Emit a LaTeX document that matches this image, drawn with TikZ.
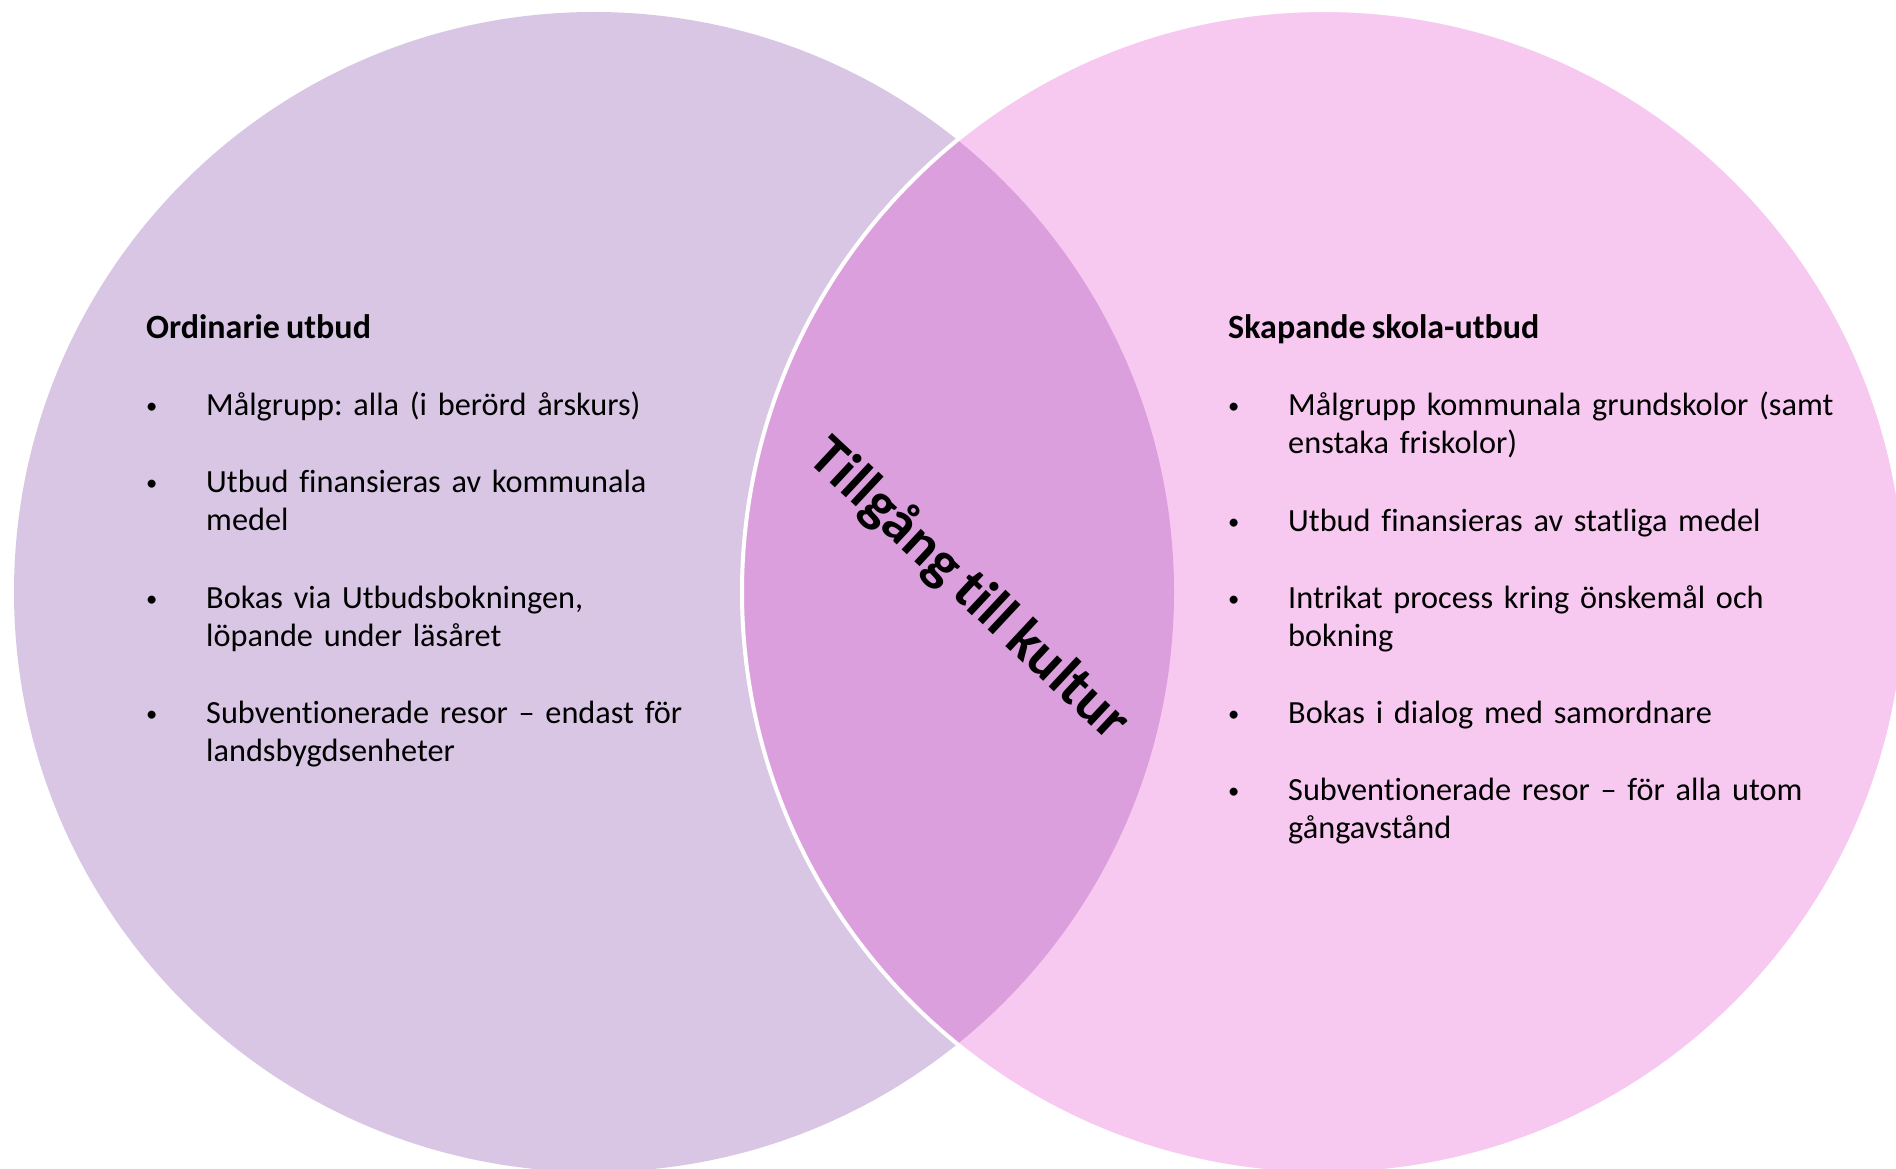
\documentclass[tikz,border=0pt]{standalone}
\usepackage{fontspec}
\setmainfont{Carlito}[Ligatures=NoCommon,WordSpace=0.8]
\usetikzlibrary{positioning}
\definecolor{lila}{RGB}{216,198,228}
\definecolor{rosa}{RGB}{247,201,240}
\definecolor{mitt}{RGB}{220,159,221}
\newcommand{\punkt}{\makebox[60pt][l]{\raisebox{2pt}{\scalebox{0.7}{\textbullet}}}}
\newcommand{\indrag}{\hspace*{60pt}}
\frenchspacing

\begin{document}
\begin{tikzpicture}[x=1pt,y=-1pt,
  rubrik/.style={anchor=base west,inner sep=0pt,font=\fontsize{34}{38.7}\selectfont\bfseries},
  lista/.style={anchor=base west,inner sep=0pt,align=left,text width=640pt,font=\fontsize{32.3}{38.7}\selectfont}]
  \useasboundingbox (0,0) rectangle (1896,1169);
  %cirklarna
  \node[circle,fill=lila,minimum size=1160pt,inner sep=0pt] (vanster) at (594,592) {};
  \node[circle,fill=rosa,minimum size=1164pt,inner sep=0pt] (hoger) at (1324,592) {};
  \begin{scope}
    \clip (vanster.center) circle[radius=580pt];
    \fill[mitt] (hoger.center) circle[radius=582pt];
  \end{scope}
  \draw[white,line width=4pt] (hoger.center) circle[radius=582pt];

  \node[rotate=-43,font=\fontsize{58}{62}\selectfont\bfseries] (titel) at (969,590) {Tillgång till kultur};

  %vänster
  \node[rubrik] (ord) at (146,338) {Ordinarie utbud};
  \node[lista] (o1) at (146,415) {\punkt Målgrupp: alla (i berörd årskurs)};
  \node[lista] (o2) at (146,492) {\punkt Utbud finansieras av kommunala\\\indrag medel};
  \node[lista] (o3) at (146,608) {\punkt Bokas via Utbudsbokningen,\\\indrag löpande under läsåret};
  \node[lista] (o4) at (146,723) {\punkt Subventionerade resor -- endast för\\\indrag landsbygdsenheter};

  %höger
  \node[rubrik] (skap) at (1228,338) {Skapande skola-utbud};
  \node[lista] (s1) at (1228,415) {\punkt Målgrupp kommunala grundskolor (samt\\\indrag enstaka friskolor)};
  \node[lista] (s2) at (1228,531) {\punkt Utbud finansieras av statliga medel};
  \node[lista] (s3) at (1228,608) {\punkt Intrikat process kring önskemål och\\\indrag bokning};
  \node[lista] (s4) at (1228,723) {\punkt Bokas i dialog med samordnare};
  \node[lista] (s5) at (1228,800) {\punkt Subventionerade resor -- för alla utom\\\indrag gångavstånd};
\end{tikzpicture}
\end{document}
